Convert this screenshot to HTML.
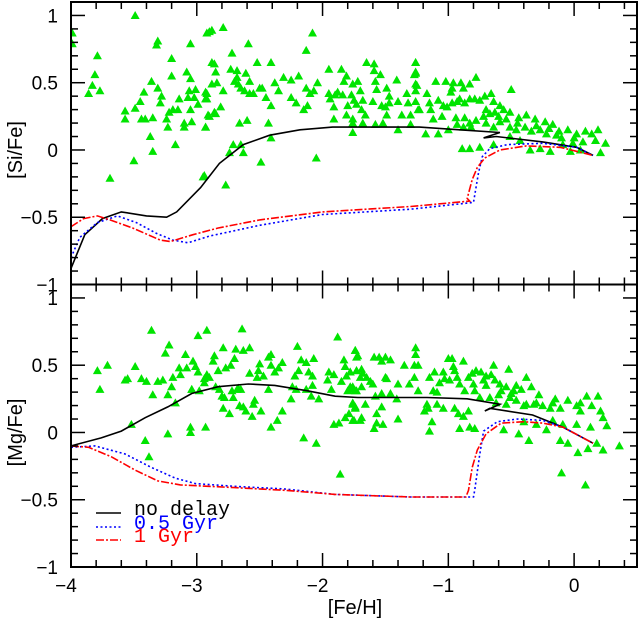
<!DOCTYPE html>
<html><head><meta charset="utf-8"><style>
html,body{margin:0;padding:0;background:#fff;}
svg{display:block;font-family:"Liberation Sans",sans-serif;}
</style></head><body>
<svg id="chart" width="638" height="630" viewBox="0 0 638 630" xmlns="http://www.w3.org/2000/svg"></svg>
<script>
// ---------- data ----------
const xTicks = [-4, -3, -2, -1, 0];
const xTickLabels = ["\u22124", "\u22123", "\u22122", "\u22121", "0"];
const yTicks = [-1, -0.5, 0, 0.5, 1];
const yTickLabels = ["\u22121", "\u22120.5", "0", "0.5", "1"];
const legendLabels = ["no delay", "0.5 Gyr", "1 Gyr"];

// [Si/Fe] observed stars: [Fe/H], [Si/Fe]
const siStars = [
[-3.99,0.87],[-3.99,0.79],[-3.49,1.0],[-3.79,0.70],[-3.81,0.56],[-3.83,0.48],[-3.86,0.42],[-3.77,0.44],
[-3.57,0.29],[-3.57,0.23],[-3.49,0.31],[-3.45,0.36],[-3.42,0.43],[-3.36,0.51],[-3.31,0.46],[-3.44,0.23],
[-3.41,0.23],[-3.35,0.24],[-3.37,0.10],[-3.35,-0.01],[-3.5,-0.08],[-3.69,-0.21],[-3.32,0.78],[-3.31,0.81],
[-3.28,0.40],[-3.29,0.35],[-3.24,0.23],[-3.23,0.17],[-3.22,0.28],[-3.2,0.68],[-3.2,0.55],[-3.19,0.30],
[-3.17,0.04],[-3.15,0.30],[-3.14,0.38],[-3.1,0.20],[-3.1,0.17],[-3.08,0.58],[-3.07,0.39],[-3.06,0.44],
[-3.05,0.30],[-3.05,0.53],[-3.05,0.79],[-3.04,0.21],[-3.02,0.39],[-3.01,0.45],[-2.99,0.34],[-2.95,-0.20],
[-2.93,0.43],[-2.93,0.38],[-2.93,0.17],[-2.92,0.87],[-2.9,0.88],[-2.91,0.26],[-2.88,0.65],[-2.86,0.28],
[-2.85,0.58],[-2.84,0.50],[-2.88,0.89],[-2.79,0.91],[-2.59,0.79],[-2.08,0.87],[-2.72,0.72],[-2.13,0.74],
[-2.86,0.64],[-2.52,0.65],[-2.41,0.65],[-2.73,0.60],[-2.68,0.59],[-2.61,0.57],
[-2.68,0.54],[-2.70,0.51],[-2.67,0.49],[-2.65,0.46],[-2.62,0.44],[-2.58,0.51],[-2.58,0.42],[-2.55,0.42],
[-2.50,0.46],[-2.48,0.46],[-2.45,0.39],[-2.41,0.33],[-2.38,0.50],[-2.35,0.44],[-2.31,0.54],[-2.25,0.52],
[-2.19,0.55],[-2.25,0.39],[-2.21,0.35],[-2.15,0.30],[-2.12,0.33],[-2.13,0.46],[-2.10,0.42],[-2.07,0.44],
[-2.04,0.50],[-2.92,0.42],[-2.92,0.38],[-2.88,0.49],[-2.79,0.44],[-2.81,0.32],[-2.85,0.27],[-2.90,0.25],
[-2.93,0.17],[-2.66,0.20],[-2.60,0.22],[-2.43,0.20],[-2.41,0.09],[-2.71,0.04],[-2.65,0.04],[-2.63,-0.02],
[-2.74,-0.02],[-2.49,-0.09],[-2.05,-0.06],[-2.94,-0.19],[-2.77,-0.26],[-1.95,0.60],[-1.85,0.60],[-1.65,0.65],
[-1.59,0.64],[-1.81,0.55],[-1.83,0.51],[-1.76,0.49],[-1.72,0.51],[-1.59,0.59],[-1.54,0.56],[-1.58,0.51],
[-1.41,0.52],[-1.26,0.65],[-1.26,0.58],[-1.27,0.56],[-1.25,0.48],[-1.49,0.46],[-1.47,0.40],[-1.57,0.45],
[-1.95,0.42],[-1.94,0.38],[-1.90,0.41],[-1.88,0.43],[-1.84,0.41],[-1.77,0.41],[-1.75,0.37],[-1.70,0.44],
[-1.68,0.37],[-1.73,0.34],[-1.80,0.33],[-1.91,0.32],[-1.81,0.26],[-1.76,0.23],[-1.69,0.30],[-1.66,0.26],
[-1.60,0.36],[-1.53,0.33],[-1.50,0.32],[-1.47,0.35],[-1.40,0.36],[-1.33,0.42],[-1.32,0.35],[-1.24,0.30],
[-1.91,0.23],[-1.76,0.20],[-1.68,0.20],[-1.58,0.19],[-1.52,0.20],[-1.49,0.26],[-1.37,0.26],[-1.30,0.26],
[-1.76,0.13],[-1.40,0.15],[-1.30,0.19],
[-1.26,0.65],[-1.26,0.57],[-1.26,0.49],[-1.26,0.44],[-1.17,0.42],[-1.10,0.51],[-1.02,0.51],[-0.96,0.50],
[-0.90,0.50],[-0.83,0.49],[-0.78,0.54],[-0.98,0.43],[-0.97,0.46],[-0.88,0.46],[-0.50,0.45],[-1.26,0.36],
[-1.23,0.30],[-1.15,0.35],[-1.14,0.30],[-1.12,0.23],[-1.08,0.37],[-1.04,0.33],[-1.05,0.25],[-1.01,0.32],
[-0.97,0.35],[-0.93,0.36],[-0.91,0.38],[-0.87,0.35],[-0.83,0.38],[-0.79,0.38],[-0.75,0.37],[-0.71,0.40],
[-0.66,0.42],[-0.64,0.36],[-0.59,0.33],[-0.94,0.24],[-0.87,0.24],[-0.83,0.20],[-0.78,0.22],[-0.72,0.25],
[-0.67,0.27],[-0.63,0.28],[-1.18,0.12],[-1.08,0.12],[-1.00,0.15],[-0.93,0.19],[-0.88,0.17],[-0.82,0.17],
[-0.70,0.20],[-0.64,0.17],[-0.59,0.21],[-0.54,0.23],[-0.51,0.28],[-0.44,0.24],[-0.38,0.26],[-0.31,0.23],
[-0.23,0.21],[-0.17,0.19],[-0.51,0.17],[-0.46,0.15],[-0.39,0.17],[-0.34,0.14],[-0.27,0.15],[-0.22,0.12],
[-0.14,0.11],[-0.10,0.09],[-0.05,0.15],[0.02,0.12],[0.09,0.14],[0.14,0.12],[0.19,0.15],[0.25,0.05],
[0.17,0.07],[0.07,0.06],[-0.01,0.05],[-0.09,0.04],[-0.89,0.01],[-0.83,0.01],[-0.75,0.02],[-0.64,0.04],
[-0.35,0.00],[-0.27,0.01],[-0.19,-0.01],[-0.03,-0.01],[0.05,0.00],[0.21,-0.02],[-0.51,0.10],[-0.43,0.07],
[-0.70,0.30],[-0.56,0.30],[-0.60,0.25],[-0.45,0.20],[-0.30,0.18],[-0.20,0.16],[-0.12,0.14],[0.00,0.09]
];

// [Mg/Fe] observed stars
const mgStars = [
[-3.79,0.46],[-3.77,0.32],[-3.71,0.50],[-3.57,0.39],[-3.55,0.40],[-3.49,0.49],[-3.44,0.40],[-3.40,0.38],
[-3.36,0.76],[-3.35,0.28],[-3.31,0.38],[-3.27,0.39],[-3.25,0.59],[-3.22,0.65],[-3.23,0.28],[-3.20,0.34],
[-3.19,0.41],[-3.17,0.22],[-3.14,0.48],[-3.13,0.43],[-3.09,0.58],[-3.08,0.48],[-3.03,0.53],[-3.01,0.49],
[-2.99,0.72],[-2.99,0.45],[-3.04,0.32],[-2.92,0.76],
[-2.94,0.40],[-2.92,0.43],[-2.90,0.41],[-2.87,0.53],[-2.86,0.57],[-2.83,0.46],[-2.79,0.63],[-2.77,0.48],
[-2.73,0.50],[-2.70,0.55],[-2.69,0.62],[-2.64,0.77],[-2.63,0.61],[-2.58,0.63],[-2.58,0.44],[-2.52,0.41],
[-2.51,0.46],[-2.50,0.51],[-2.47,0.42],[-2.43,0.56],[-2.41,0.58],[-2.41,0.50],[-2.35,0.48],[-2.38,0.45],
[-2.32,0.52],[-2.43,0.32],[-2.20,0.64],[-2.17,0.54],[-2.13,0.52],[-2.11,0.45],[-2.07,0.55],[-2.08,0.42],
[-2.22,0.42],[-2.19,0.46],[-2.24,0.34],[-2.21,0.32],[-2.13,0.32],[-2.08,0.35],[-2.09,0.27],[-2.03,0.25],
[-2.25,0.25],[-1.96,0.39],[-1.95,0.45],[-1.91,0.43],[-1.93,0.32],[-1.88,0.71],[-1.83,0.54],[-1.82,0.49],
[-1.85,0.38],[-1.78,0.45],[-1.81,0.42],[-1.74,0.61],[-1.73,0.56],[-1.73,0.46],[-1.80,0.31],[-1.77,0.32],
[-1.74,0.31],[-1.76,0.21],[-1.74,0.18],[-1.79,0.14],[-1.82,0.11],[-1.75,0.09],[-1.91,0.06],[-1.87,0.07],
[-2.05,-0.08],[-2.15,-0.04],[-1.86,-0.31],[-2.94,0.37],[-2.82,0.32],[-2.80,0.27],[-2.78,0.26],[-2.71,0.26],
[-2.72,0.31],[-2.67,0.33],[-2.66,0.20],[-2.63,0.19],[-2.55,0.21],[-2.54,0.24],[-2.61,0.16],[-2.56,0.12],
[-2.49,0.16],[-2.74,0.14],[-2.79,0.18],[-2.68,0.32],[-2.65,0.32],[-2.36,0.09],[-2.41,0.04],[-2.32,0.16],
[-2.93,0.04],[-3.05,0.04],[-3.05,0.00],[-3.23,-0.01],[-3.41,-0.06],[-3.38,-0.18],[-3.52,0.06],[-3.04,0.32],
[-2.85,0.34],[-2.98,0.31],
[-1.74,0.61],[-1.72,0.57],[-1.59,0.56],[-1.55,0.56],[-1.53,0.53],[-1.50,0.56],[-1.46,0.54],[-1.26,0.63],
[-1.26,0.58],[-1.27,0.50],[-1.24,0.50],[-1.35,0.50],[-1.00,0.55],[-0.97,0.55],[-0.88,0.53],[-0.96,0.49],
[-0.95,0.46],[-1.78,0.45],[-1.73,0.46],[-1.69,0.47],[-1.68,0.44],[-1.70,0.41],[-1.65,0.41],[-1.62,0.38],
[-1.60,0.36],[-1.78,0.34],[-1.76,0.34],[-1.69,0.34],[-1.73,0.31],[-1.58,0.27],[-1.53,0.29],[-1.46,0.29],
[-1.41,0.25],[-1.76,0.22],[-1.66,0.21],[-1.74,0.19],[-1.53,0.19],[-1.57,0.14],[-1.69,0.11],[-1.76,0.09],
[-1.70,0.09],[-1.40,0.10],[-1.57,0.07],[-1.52,0.06],[-1.59,0.03],[-1.50,0.41],[-1.49,0.40],[-1.40,0.36],
[-1.31,0.36],[-1.27,0.41],[-1.24,0.31],[-1.15,0.41],[-1.11,0.45],[-1.07,0.37],[-1.04,0.45],[-1.03,0.40],
[-1.12,0.31],[-1.09,0.30],[-1.17,0.21],[-1.16,0.18],[-1.19,0.16],[-1.09,0.21],[-1.04,0.18],[-1.13,0.08],
[-1.15,0.01],[-0.95,0.18],[-0.92,0.14],[-0.91,0.03],[-0.83,0.04],[-0.79,0.03],[-0.88,0.12],[-0.84,0.16],
[-0.99,0.39],[-0.93,0.41],[-0.91,0.36],[-0.87,0.31],[-0.84,0.41],[-0.81,0.44],[-0.78,0.46],[-0.74,0.45],
[-0.72,0.39],[-0.70,0.35],[-0.66,0.43],[-0.64,0.50],[-0.63,0.39],[-0.59,0.36],[-0.58,0.31],[-0.54,0.34],
[-0.52,0.47],[-0.48,0.31],[-0.46,0.35],[-0.42,0.32],[-0.38,0.41],[-0.34,0.34],[-0.79,0.31],[-0.75,0.26],
[-0.67,0.26],[-0.62,0.22],[-0.54,0.21],[-0.51,0.26],[-0.46,0.24],[-0.40,0.20],[-0.38,0.21],[-0.32,0.21],
[-0.30,0.22],[-0.25,0.20],[-0.19,0.18],[-0.17,0.22],[-0.11,0.18],[-0.05,0.24],[0.02,0.20],[0.05,0.16],
[0.10,0.27],[0.14,0.20],[0.19,0.27],[0.21,0.16],[0.23,0.11],[0.26,0.05],[0.36,-0.10],[0.23,-0.13],
[0.18,-0.08],[0.11,-0.12],[0.03,-0.15],[-0.05,-0.08],[-0.11,-0.06],[-0.22,0.02],[-0.36,-0.06],[-0.44,-0.01],
[-0.56,0.02],[-0.10,-0.30],[0.09,-0.39],[-0.09,0.06],[0.02,0.06],[0.13,0.04],[-0.30,0.06],[-0.40,0.08],
[-0.17,0.09],[-0.60,0.28],[-0.50,0.29],[-0.28,0.28],[-0.15,0.25],[0.05,0.22],[-0.70,0.42],[-0.80,0.36]
];

// model curves [Fe/H, ratio]
const siNoDelay = [[-4,-0.88],[-3.89,-0.63],[-3.75,-0.51],[-3.6,-0.46],[-3.4,-0.49],[-3.24,-0.5],[-3.16,-0.46],[-2.97,-0.28],[-2.82,-0.1],[-2.63,0.04],[-2.42,0.11],[-2.18,0.15],[-1.92,0.17],[-1.65,0.17],[-1.23,0.17],[-0.91,0.15],[-0.59,0.13],[-0.72,0.09],[-0.62,0.1],[-0.25,0.06],[0.02,0.02],[0.15,-0.04]];
const siHalfGyr = [[-4,-0.8],[-3.93,-0.65],[-3.79,-0.54],[-3.63,-0.49],[-3.48,-0.54],[-3.32,-0.62],[-3.19,-0.67],[-3.07,-0.69],[-2.9,-0.64],[-2.5,-0.56],[-2.0,-0.48],[-1.3,-0.44],[-0.8,-0.39],[-0.76,-0.17],[-0.73,-0.05],[-0.67,0.01],[-0.53,0.04],[-0.25,0.05],[0.02,0.02],[0.15,-0.04]];
const siOneGyr = [[-4,-0.57],[-3.9,-0.51],[-3.79,-0.49],[-3.69,-0.52],[-3.51,-0.58],[-3.29,-0.67],[-3.21,-0.68],[-3.03,-0.63],[-2.83,-0.58],[-2.5,-0.52],[-2.0,-0.46],[-1.3,-0.42],[-0.83,-0.38],[-0.85,-0.36],[-0.81,-0.22],[-0.77,-0.13],[-0.71,-0.06],[-0.59,0.0],[-0.38,0.03],[-0.11,0.02],[0.15,-0.04]];
const mgNoDelay = [[-4,-0.1],[-3.76,-0.04],[-3.6,0.01],[-3.41,0.11],[-3.23,0.19],[-3.04,0.29],[-2.83,0.34],[-2.59,0.36],[-2.38,0.35],[-2.12,0.31],[-1.9,0.27],[-1.72,0.26],[-1.17,0.26],[-0.85,0.25],[-0.59,0.21],[-0.71,0.16],[-0.67,0.18],[-0.33,0.13],[-0.09,0.04],[0.15,-0.08]];
const mgHalfGyr = [[-4,-0.11],[-3.81,-0.1],[-3.57,-0.16],[-3.36,-0.26],[-3.17,-0.34],[-3.01,-0.38],[-2.7,-0.4],[-2.3,-0.42],[-1.9,-0.46],[-1.3,-0.48],[-0.8,-0.48],[-0.79,-0.43],[-0.75,-0.16],[-0.72,0.01],[-0.61,0.08],[-0.45,0.1],[-0.25,0.09],[-0.09,0.04],[0.15,-0.08]];
const mgOneGyr = [[-4,-0.1],[-3.86,-0.11],[-3.68,-0.18],[-3.49,-0.28],[-3.31,-0.36],[-3.13,-0.39],[-2.7,-0.41],[-2.3,-0.43],[-1.9,-0.46],[-1.3,-0.48],[-0.86,-0.48],[-0.84,-0.43],[-0.81,-0.26],[-0.77,-0.13],[-0.7,-0.01],[-0.58,0.07],[-0.4,0.08],[-0.25,0.07],[-0.09,0.04],[0.15,-0.08]];

// ---------- layout ----------
const L = 71, R = 637, X0 = -4, X1 = 0.5;
const panels = [
  {name:"si-panel", top:2, bottom:284.5, stars:siStars, curves:[siNoDelay, siHalfGyr, siOneGyr], label:"[Si/Fe]"},
  {name:"mg-panel", top:284.5, bottom:567, stars:mgStars, curves:[mgNoDelay, mgHalfGyr, mgOneGyr], label:"[Mg/Fe]"}
];
const Y0 = -1, Y1 = 1.1;
const styles = [
  {stroke:"#000", dash:null, name:"no-delay-curve"},
  {stroke:"#0000ff", dash:"2,2.5", name:"half-gyr-curve"},
  {stroke:"#ff0000", dash:"8,2,2,2", name:"one-gyr-curve"}
];
const NS = "http://www.w3.org/2000/svg";
const svg = document.getElementById("chart");
function xs(v){ return L + (v - X0) / (X1 - X0) * (R - L); }
function mk(tag, attrs, parent){
  const e = document.createElementNS(NS, tag);
  for (const k in attrs) e.setAttribute(k, attrs[k]);
  (parent || svg).appendChild(e);
  return e;
}

panels.forEach((p) => {
  const ys = v => p.bottom - (v - Y0) / (Y1 - Y0) * (p.bottom - p.top);
  const g = mk("g", {});
  
  
  const clipId = p.name + "-clip";
  const cp = mk("clipPath", {id: clipId}, g);
  mk("rect", {x: L, y: p.top, width: R - L, height: p.bottom - p.top}, cp);

  // stars
  const sg = mk("g", {fill: "#00e400", "clip-path": "url(#" + clipId + ")"}, g);
  
  
  p.stars.forEach(s => {
    const cx = xs(s[0]), cy = ys(s[1]);
    const t = mk("polygon", {points: (cx-4.5)+","+(cy+3.5)+" "+(cx+4.5)+","+(cy+3.5)+" "+cx+","+(cy-4.5)}, sg);
    
    
  });

  // curves
  p.curves.forEach((c, i) => {
    const st = styles[i];
    const path = mk("polyline", {points: c.map(q => xs(q[0]).toFixed(1)+","+ys(q[1]).toFixed(1)).join(" "),
      fill: "none", stroke: st.stroke, "stroke-width": 1.6, "clip-path": "url(#" + clipId + ")"}, g);
    if (st.dash) path.setAttribute("stroke-dasharray", st.dash);
    
    
  });

  // frame
  const fr = mk("rect", {x: L, y: p.top, width: R - L, height: p.bottom - p.top, fill: "none", stroke: "#000", "stroke-width": 2}, g);
  
  

  // ticks
  const tk = mk("g", {stroke: "#000", "stroke-width": 1.5}, g);
  
  
  for (let i = 0; i <= 22; i++) {
    const v = -4 + i * 0.2;
    if (v > X1 + 1e-6) break;
    const major = Math.abs(v - Math.round(v)) < 1e-6;
    const len = major ? 14 : 7, x = xs(v);
    mk("line", {x1: x, y1: p.bottom, x2: x, y2: p.bottom - len}, tk);
    mk("line", {x1: x, y1: p.top, x2: x, y2: p.top + len}, tk);
  }
  for (let i = 0; i <= 21; i++) {
    const v = -1 + i * 0.1;
    if (v > Y1 - 1e-6) break;
    const major = Math.abs(v * 2 - Math.round(v * 2)) < 1e-6;
    const len = major ? 14 : 7, y = ys(v);
    mk("line", {x1: L, y1: y, x2: L + len, y2: y}, tk);
    mk("line", {x1: R, y1: y, x2: R - len, y2: y}, tk);
  }
  // y tick labels
  yTicks.forEach((v, i) => {
    const t = mk("text", {x: 58, y: ys(v) + 7, "text-anchor": "end", "font-size": 19}, g);
    t.textContent = yTickLabels[i];
    
    
  });
  // y axis title
  const cy = (ys(0));
  const yt = mk("text", {x: 22, y: cy, "text-anchor": "middle", "font-size": 20, transform: "rotate(-90 22 " + cy + ")"}, g);
  yt.textContent = p.label;
  
  
});

// x tick labels
xTicks.forEach((v, i) => {
  const t = mk("text", {x: xs(v) - (v < 0 ? 5 : 0), y: 592, "text-anchor": "middle", "font-size": 19});
  t.textContent = xTickLabels[i];
  
  
});
const xt = mk("text", {x: 355, y: 614, "text-anchor": "middle", "font-size": 20});
xt.textContent = "[Fe/H]";



// legend
const lg = mk("g", {});


const legY = [513, 527, 540];
const legColors = ["#000", "#0000ff", "#ff0000"];
legendLabels.forEach((lab, i) => {
  const ln = mk("line", {x1: 96, y1: legY[i], x2: 121, y2: legY[i], stroke: styles[i].stroke, "stroke-width": 1.6}, lg);
  if (styles[i].dash) ln.setAttribute("stroke-dasharray", styles[i].dash);
  
  
  const t = mk("text", {x: 134, y: legY[i] + 2, "font-size": 20, fill: legColors[i], "font-family": "Liberation Mono, monospace"}, lg);
  t.textContent = lab;
  
  
});
</script>
</body></html>
